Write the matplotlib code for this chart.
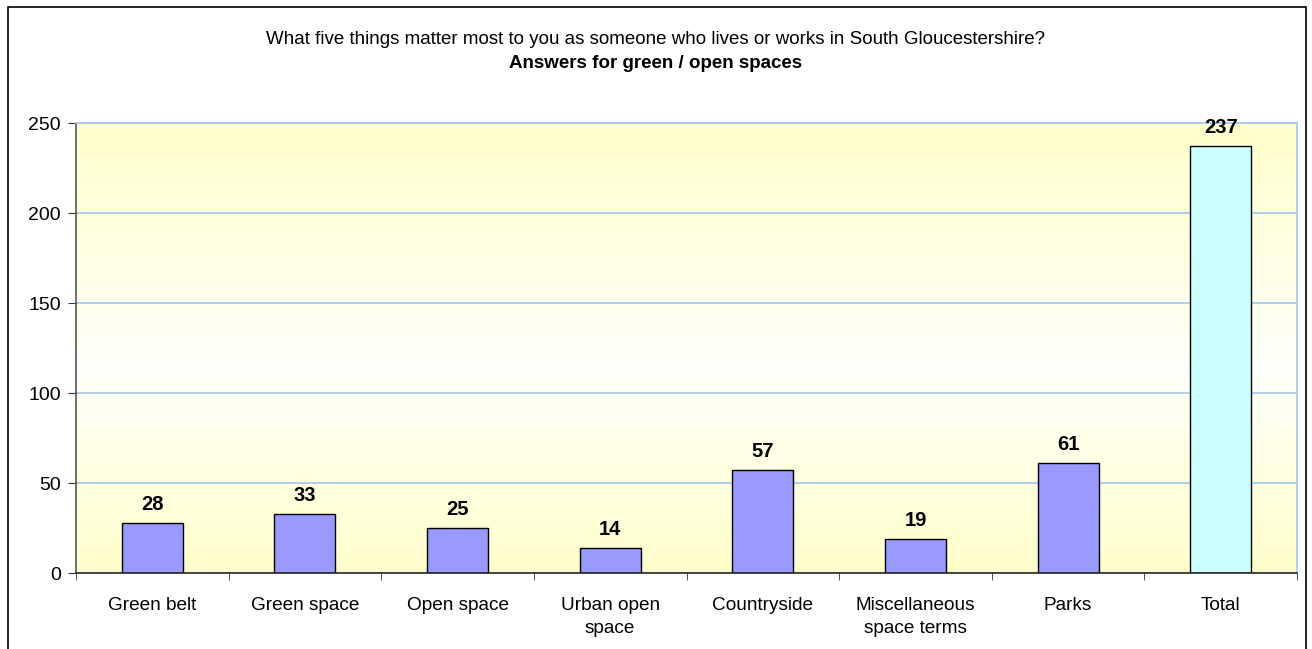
import matplotlib
matplotlib.use("Agg")
import matplotlib.pyplot as plt
import numpy as np
from matplotlib.colors import LinearSegmentedColormap
from matplotlib.patches import Rectangle

plt.rcParams['font.family'] = ['Liberation Sans', 'DejaVu Sans']

categories = ["Green belt", "Green space", "Open space", "Urban open\nspace",
              "Countryside", "Miscellaneous\nspace terms", "Parks", "Total"]
values = [28, 33, 25, 14, 57, 19, 61, 237]
bar_colors = ["#9999FF"] * 7 + ["#CCFFFF"]
yticks = [0, 50, 100, 150, 200, 250]

W, H = 1312, 649
fig = plt.figure(figsize=(W / 100, H / 100), dpi=100)

# outer border
fig.patches.append(Rectangle((8 / W, -0.01), (1306 - 8) / W, 1.01 - 7 / H,
                             transform=fig.transFigure, fill=False,
                             edgecolor="black", linewidth=1.2))

left, right, top, bottom = 76, 1297, 123, 573
ax = fig.add_axes([left / W, 1 - bottom / H, (right - left) / W, (bottom - top) / H])

n = len(categories)
x = np.arange(n)
ax.set_xlim(-0.5, n - 0.5)
ax.set_ylim(0, 250)

# gradient background
cmap = LinearSegmentedColormap.from_list(
    "bg", [(0, "#FFFFCC"), (0.45, "#FFFFFA"), (1, "#FFFFCC")])
grad = np.linspace(0, 1, 256).reshape(-1, 1)
ax.imshow(grad, aspect="auto", cmap=cmap, origin="lower",
          extent=[-0.5, n - 0.5, 0, 250], zorder=0)

grid_color = "#A6CAF0"
for y in yticks[1:]:
    ax.axhline(y, color=grid_color, linewidth=1.3, zorder=1)

bars = ax.bar(x, values, width=0.4, color=bar_colors, edgecolor="black",
              linewidth=1, zorder=2)
for xi, v in zip(x, values):
    ax.text(xi, v + 5, str(v), ha="center", va="bottom", fontsize=14.5,
            fontweight="bold", zorder=3)

ax.set_yticks(yticks)
ax.set_yticklabels([str(t) for t in yticks], fontsize=14)
ax.set_xticks(x)
ax.set_xticklabels(categories, fontsize=13.7, linespacing=1.5)
ax.set_xticks(np.arange(n + 1) - 0.5, minor=True)
ax.tick_params(axis="x", which="major", length=0, pad=17)
ax.tick_params(axis="x", which="minor", length=5, direction="out", color="#333333")
ax.tick_params(axis="y", length=6, direction="out", color="#333333", pad=5)

for s in ["top", "right"]:
    ax.spines[s].set_color(grid_color)
    ax.spines[s].set_linewidth(1.3)
ax.spines["left"].set_color("#555555")
ax.spines["bottom"].set_color("#222222")
ax.spines["left"].set_linewidth(1.2)
ax.spines["bottom"].set_linewidth(1.2)

fig.text(0.5, 1 - 40 / H, "What five things matter most to you as someone who lives or works in South Gloucestershire?",
         ha="center", va="center", fontsize=13.5)
fig.text(0.5, 1 - 63 / H, "Answers for green / open spaces",
         ha="center", va="center", fontsize=13.5, fontweight="bold")

fig.savefig("out.png", dpi=100, facecolor="white")
